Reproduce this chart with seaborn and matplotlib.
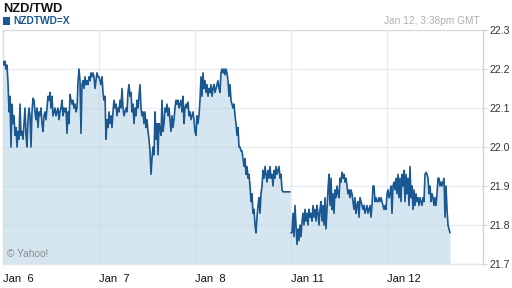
import numpy as np
import pandas as pd
import matplotlib
matplotlib.use("Agg")
import matplotlib.pyplot as plt
from matplotlib.patches import Rectangle
import seaborn as sns

# ---- data (NZD/TWD, 15-minute samples per trading day) ----
day_labels = ["Jan  6", "Jan  7", "Jan  8", "Jan 11", "Jan 12"]
y_ticks = [21.7, 21.8, 21.9, 22.0, 22.1, 22.2, 22.3]

jan6 = [22.22, 22.21, 22.22, 22.20, 22.21, 22.165, 22.09, 22.13, 22.00, 22.11, 22.06, 22.08,
        22.03, 22.05, 22.00, 22.04, 22.02, 22.11, 22.03, 22.04, 22.02, 22.06, 22.10, 22.03,
        22.00, 22.07, 22.10, 22.08, 22.00, 22.09, 22.125, 22.12, 22.09, 22.07, 22.10, 22.05,
        22.09, 22.08, 22.10, 22.06, 22.04, 22.08, 22.09, 22.07, 22.10, 22.13, 22.12, 22.14,
        22.10, 22.13, 22.08, 22.09, 22.10, 22.08, 22.09, 22.10, 22.07, 22.09, 22.10, 22.12,
        22.08, 22.10, 22.09, 22.10, 22.035, 22.09, 22.06, 22.135, 22.12, 22.11, 22.12, 22.10,
        22.11, 22.09, 22.10, 22.165, 22.20, 22.17, 22.035, 22.16, 22.17, 22.15, 22.18, 22.16,
        22.17, 22.16, 22.18, 22.17, 22.19, 22.18, 22.19, 22.18, 22.15, 22.17, 22.19, 22.18]

jan7 = [22.18, 22.17, 22.16, 22.18, 22.14, 22.12, 22.13, 22.02, 22.07, 22.05, 22.09, 22.06,
        22.08, 22.05, 22.09, 22.12, 22.10, 22.11, 22.08, 22.10, 22.09, 22.12, 22.10, 22.15,
        22.10, 22.08, 22.09, 22.10, 22.09, 22.14, 22.16, 22.13, 22.14, 22.09, 22.11, 22.06,
        22.10, 22.08, 22.12, 22.10, 22.13, 22.16, 22.10, 22.08, 22.09, 22.06, 22.09, 22.05,
        22.07, 22.04, 22.02, 21.99, 21.93, 21.97, 22.00, 21.98, 22.09, 22.02, 22.06, 21.98,
        22.06, 22.05, 22.03, 22.12, 22.04, 22.06, 22.10, 22.09, 22.11, 22.08, 22.10, 22.07,
        22.04, 22.08, 22.05, 22.07, 22.10, 22.12, 22.11, 22.12, 22.10, 22.11, 22.12, 22.09,
        22.13, 22.06, 22.10, 22.11, 22.10, 22.115, 22.08, 22.09, 22.07, 22.08, 22.09, 22.07]

jan8 = [22.04, 22.03, 22.08, 22.06, 22.08, 22.12, 22.18, 22.13, 22.19, 22.15, 22.17, 22.14,
        22.16, 22.13, 22.15, 22.14, 22.16, 22.13, 22.15, 22.16, 22.14, 22.15, 22.16, 22.17,
        22.15, 22.14, 22.19, 22.20, 22.19, 22.20, 22.185, 22.20, 22.19, 22.17, 22.13, 22.16,
        22.12, 22.11, 22.10, 22.11, 22.08, 22.06, 22.03, 22.05, 22.00, 22.00, 21.99, 21.99,
        21.97, 21.95, 21.97, 21.93, 21.95, 21.92, 21.93, 21.90, 21.86, 21.88, 21.83, 21.84,
        21.80, 21.78, 21.82, 21.85, 21.87, 21.83, 21.88, 21.90, 21.94, 21.92, 21.95, 21.93,
        21.91, 21.94, 21.92, 21.95, 21.92, 21.93, 21.90, 21.94, 21.92, 21.95, 21.93, 21.94,
        21.95, 21.92, 21.93, 21.89, 21.885, 21.885, 21.885, 21.885, 21.885, 21.885, 21.885, 21.885]

jan11 = [21.78, 21.78, 21.83, 21.77, 21.85, 21.80, 21.75, 21.79, 21.76, 21.80, 21.77, 21.81,
         21.83, 21.80, 21.84, 21.81, 21.83, 21.80, 21.84, 21.82, 21.83, 21.81, 21.85, 21.82,
         21.84, 21.81, 21.85, 21.83, 21.80, 21.84, 21.86, 21.81, 21.85, 21.80, 21.87, 21.79,
         21.84, 21.89, 21.93, 21.85, 21.92, 21.84, 21.88, 21.83, 21.89, 21.87, 21.90, 21.88,
         21.87, 21.92, 21.91, 21.935, 21.92, 21.93, 21.91, 21.92, 21.90, 21.88, 21.89, 21.87,
         21.89, 21.88, 21.86, 21.84, 21.87, 21.83, 21.85, 21.86, 21.82, 21.87, 21.86, 21.85,
         21.84, 21.85, 21.83, 21.84, 21.85, 21.83, 21.84, 21.85, 21.82, 21.85, 21.90, 21.90,
         21.86, 21.87, 21.86, 21.86, 21.87, 21.86, 21.87, 21.86, 21.85, 21.84, 21.85, 21.84]

jan12 = [21.88, 21.89, 21.87, 21.88, 21.90, 21.83, 21.90, 21.91, 21.89, 21.92, 21.88, 21.93,
         21.87, 21.92, 21.86, 21.93, 21.90, 21.94, 21.86, 21.93, 21.88, 21.92, 21.85, 21.95,
         21.87, 21.90, 21.84, 21.89, 21.85, 21.88, 21.86, 21.87, 21.85, 21.87, 21.86, 21.85,
         21.87, 21.86, 21.93, 21.935, 21.93, 21.92, 21.88, 21.90, 21.86, 21.88, 21.87, 21.85,
         21.87, 21.85, 21.88, 21.92, 21.92, 21.90, 21.91, 21.90, 21.91, 21.92, 21.82, 21.90,
         21.84, 21.80, 21.79, 21.78]

days = [jan6, jan7, jan8, jan11, jan12]
segments = [0, 0, 0, 1, 1]  # trading sessions separated by the weekend

# ---- style ----
LINE = "#1b5891"
FILL = "#d6e6f1"
sns.set_style("white")
plt.rcParams["font.family"] = ["Liberation Sans", "DejaVu Sans"]

frames = []
for d, (vals, seg) in enumerate(zip(days, segments)):
    frames.append(pd.DataFrame({"hour": d * 24 + np.arange(len(vals)) * 0.25,
                                "rate": vals, "segment": seg}))
df = pd.concat(frames, ignore_index=True)

fig = plt.figure(figsize=(5.12, 2.88), dpi=100)
ax = fig.add_axes([3 / 512, 24 / 288, 480 / 512, 234 / 288])

ax.fill_between(df["hour"], df["rate"], y_ticks[0], color=FILL, lw=0, zorder=1)
sns.lineplot(data=df, x="hour", y="rate", units="segment", estimator=None,
             color=LINE, lw=1.2, ax=ax, zorder=3, legend=False)

ax.set_xlim(0, 120)
ax.set_ylim(y_ticks[0], y_ticks[-1])
ax.set_xticks([i * 24 for i in range(len(day_labels))])
ax.set_xticklabels(day_labels, ha="left")
ax.set_yticks(y_ticks)
ax.set_yticklabels([f"{t:.1f}" for t in y_ticks])
ax.yaxis.tick_right()
ax.set_xlabel("")
ax.set_ylabel("")
ax.tick_params(axis="x", length=5, color="#d0d0d0", labelsize=8, labelcolor="#111111", pad=2)
ax.tick_params(axis="y", length=3, color="#d0d0d0", labelsize=7.6, labelcolor="#333333", pad=1.5)

ax.grid(True, color="#b4c8d8", alpha=0.3, lw=1)
ax.set_axisbelow(False)
for name, sp in ax.spines.items():
    sp.set_visible(True)
    sp.set_color("#e6e6e6")
    sp.set_linewidth(1)
ax.spines["right"].set_color("#d4d4d4")

fig.text(3 / 512, 1 - 9 / 288, "NZD/TWD", fontsize=9.3, fontweight="bold",
         color="#111111", va="center", ha="left")
fig.add_artist(Rectangle((3 / 512, 1 - 24.5 / 288), 7 / 512, 7 / 288,
                         transform=fig.transFigure, color=LINE, lw=0))
fig.text(13 / 512, 1 - 21 / 288, "NZDTWD=X", fontsize=7.4, fontweight="bold",
         color=LINE, va="center", ha="left")
fig.text(480 / 512, 1 - 20.5 / 288, "Jan 12, 3:38pm GMT", fontsize=7.3,
         color="#b0b0b0", va="center", ha="right")
fig.text(7 / 512, 1 - 254 / 288, "\u00a9 Yahoo!", fontsize=7.3,
         color="#8a8a8a", va="center", ha="left")

fig.savefig("out.png", dpi=100)
